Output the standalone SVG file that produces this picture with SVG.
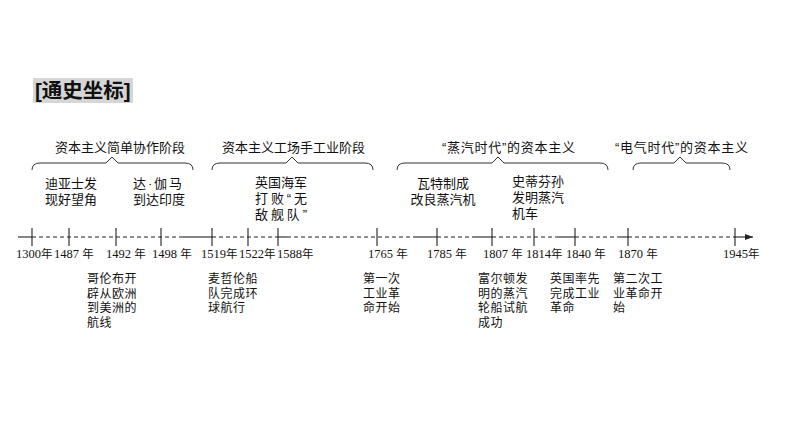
<svg xmlns="http://www.w3.org/2000/svg" width="794" height="447" viewBox="0 0 794 447">
<defs>
<style>
.cn{font-family:"Liberation Sans","Noto Sans CJK SC",sans-serif;fill:#111;}
.ev{font-size:13px;}
.evl{font-size:12px;letter-spacing:0.5px;}
.ph{font-size:13px;}
.yr{font-family:"Liberation Serif","Noto Sans CJK SC",serif;font-size:12.5px;fill:#111;}
.nian{font-family:"Liberation Sans","Noto Sans CJK SC",sans-serif;font-size:11.5px;}
.ln{stroke:#222;stroke-width:1.1;fill:none;}
.ds{stroke-dasharray:4 3;}
.br{stroke:#333;stroke-width:1;fill:none;}
</style>
<marker id="arr" viewBox="0 0 8 6" refX="8" refY="3" markerWidth="8" markerHeight="6" orient="auto" markerUnits="userSpaceOnUse">
<path d="M0,0 L8,3 L0,6 Z" fill="#222"/>
</marker>
</defs>
<rect width="794" height="447" fill="#fff"/>

<g id="title">
<rect x="33" y="78" width="100" height="25" fill="#d6d6d6"/>
<text x="35" y="98" class="cn" font-size="20.5" font-weight="bold" fill="#222">[通史坐标]</text>
</g>

<g id="connectors">
<path class="ln" d="M18,237 H32"/>
<path class="ln ds" d="M32,237 H183"/>
<path class="ln" d="M183,237 H212"/>
<path class="ln ds" d="M212,237 H278"/>
<path class="ln" d="M278,237 H287"/>
<path class="ln ds" d="M287,237 H413"/>
<path class="ln" d="M413,237 H437"/>
<path class="ln ds" d="M437,237 H473"/>
<path class="ln" d="M473,237 H492"/>
<path class="ln ds" d="M492,237 H557"/>
<path class="ln" d="M557,237 H575"/>
<path class="ln ds" d="M575,237 H620"/>
<path class="ln" d="M620,237 H628"/>
<path class="ln ds" d="M628,237 H733"/>
<path class="ln" d="M733,237 H753" marker-end="url(#arr)"/>
<path class="ln" d="M32,228 V246 M69,228 V246 M116,228 V246 M161,228 V246 M212,228 V246 M248,228 V246 M278,228 V246 M377,228 V246 M437,228 V246 M492,228 V246 M534,228 V246 M575,228 V246 M628,228 V246 M735,228 V246"/>
<path class="br" d="M32,170 Q32,163 40,163 L106,163 L112,157 L118,163 L185,163 Q193,163 193,170"/>
<path class="br" d="M212,170 Q212,163 220,163 L286,163 L292,157 L298,163 L365,163 Q373,163 373,170"/>
<path class="br" d="M397,170 Q397,163 405,163 L492,163 L498,157 L504,163 L600,163 Q608,163 608,170"/>
<path class="br" d="M633,170 Q633,163 641,163 L674,163 L680,157 L686,163 L722,163 Q730,163 730,170"/>
</g>

<g id="years">
<text class="yr" x="16" y="258">1300<tspan class="nian">年</tspan></text>
<text class="yr" x="54" y="258">1487 <tspan class="nian">年</tspan></text>
<text class="yr" x="106" y="258">1492 <tspan class="nian">年</tspan></text>
<text class="yr" x="152" y="258">1498 <tspan class="nian">年</tspan></text>
<text class="yr" x="201" y="258">1519<tspan class="nian">年</tspan></text>
<text class="yr" x="239" y="258">1522<tspan class="nian">年</tspan></text>
<text class="yr" x="277" y="258">1588<tspan class="nian">年</tspan></text>
<text class="yr" x="368" y="258">1765 <tspan class="nian">年</tspan></text>
<text class="yr" x="427" y="258">1785 <tspan class="nian">年</tspan></text>
<text class="yr" x="483" y="258">1807 <tspan class="nian">年</tspan></text>
<text class="yr" x="526" y="258">1814<tspan class="nian">年</tspan></text>
<text class="yr" x="566" y="258">1840 <tspan class="nian">年</tspan></text>
<text class="yr" x="618" y="258">1870 <tspan class="nian">年</tspan></text>
<text class="yr" x="723" y="258">1945<tspan class="nian">年</tspan></text>
</g>

<g id="phase1"><text class="cn ph" x="55" y="152">资本主义简单协作阶段</text></g>
<g id="phase2"><text class="cn ph" x="222" y="152">资本主义工场手工业阶段</text></g>
<g id="phase3"><text class="cn ph" x="442" y="152" textLength="133" lengthAdjust="spacing">“蒸汽时代”的资本主义</text></g>
<g id="phase4"><text class="cn ph" x="615" y="152" textLength="133" lengthAdjust="spacing">“电气时代”的资本主义</text></g>

<g id="ev-diaz"><text class="cn ev" x="45" y="188">迪亚士发<tspan x="45" dy="16">现好望角</tspan></text></g>
<g id="ev-gama"><text class="cn ev"><tspan x="133" y="188" textLength="49" lengthAdjust="spacing">达·伽马</tspan><tspan x="133" y="204">到达印度</tspan></text></g>
<g id="ev-armada"><text class="cn ev"><tspan x="255" y="187">英国海军</tspan><tspan x="255" y="203" textLength="52" lengthAdjust="spacing">打败“无</tspan><tspan x="255" y="219" textLength="52" lengthAdjust="spacing">敌舰队”</tspan></text></g>
<g id="ev-watt"><text class="cn ev" text-anchor="middle" x="443" y="188">瓦特制成<tspan x="443" dy="16">改良蒸汽机</tspan></text></g>
<g id="ev-stephenson"><text class="cn ev" x="512" y="186">史蒂芬孙<tspan x="512" dy="16">发明蒸汽</tspan><tspan x="512" dy="16">机车</tspan></text></g>

<g id="ev-columbus"><text class="cn evl" x="87" y="283">哥伦布开<tspan x="87" dy="14.5">辟从欧洲</tspan><tspan x="87" dy="14.5">到美洲的</tspan><tspan x="87" dy="14.5">航线</tspan></text></g>
<g id="ev-magellan"><text class="cn evl" x="208" y="283">麦哲伦船<tspan x="208" dy="14.5">队完成环</tspan><tspan x="208" dy="14.5">球航行</tspan></text></g>
<g id="ev-ir1"><text class="cn evl" x="363" y="283">第一次<tspan x="363" dy="14.5">工业革</tspan><tspan x="363" dy="14.5">命开始</tspan></text></g>
<g id="ev-fulton"><text class="cn evl" x="478" y="283">富尔顿发<tspan x="478" dy="14.5">明的蒸汽</tspan><tspan x="478" dy="14.5">轮船试航</tspan><tspan x="478" dy="14.5">成功</tspan></text></g>
<g id="ev-britain"><text class="cn evl" x="550" y="283">英国率先<tspan x="550" dy="14.5">完成工业</tspan><tspan x="550" dy="14.5">革命</tspan></text></g>
<g id="ev-ir2"><text class="cn evl" x="613" y="283">第二次工<tspan x="613" dy="14.5">业革命开</tspan><tspan x="613" dy="14.5">始</tspan></text></g>
</svg>
